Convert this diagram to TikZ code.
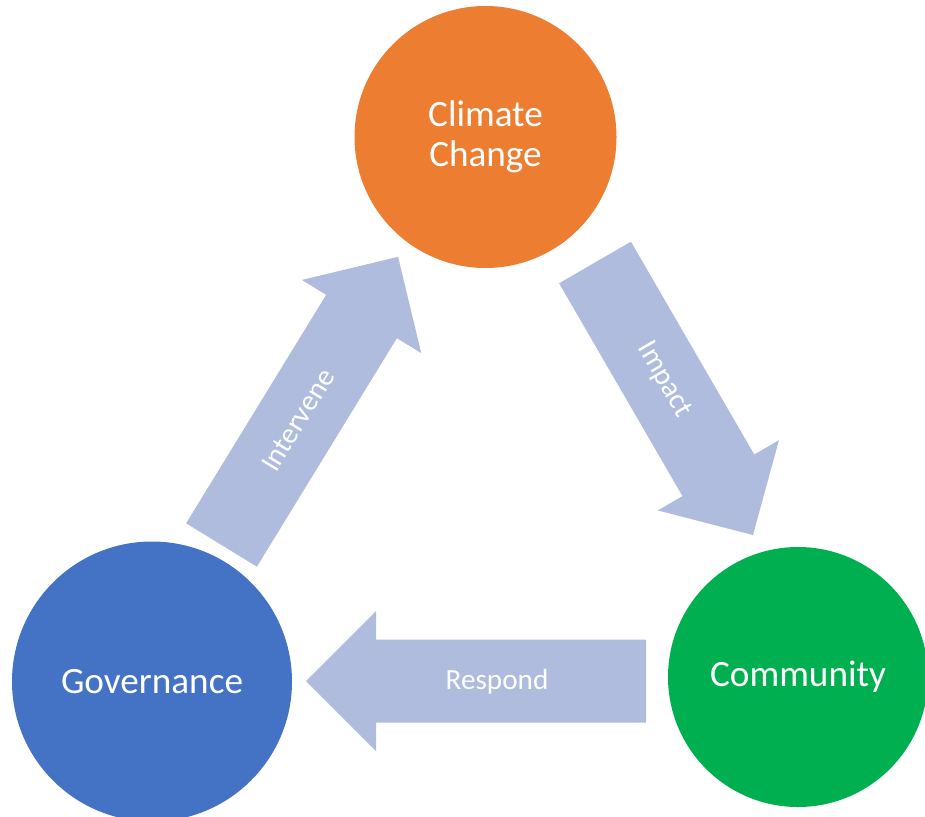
\documentclass[tikz,border=0pt]{standalone}
\usepackage{fontspec}
\setmainfont{Carlito}
\usetikzlibrary{calc}
\definecolor{ccorange}{HTML}{ED7D31}
\definecolor{govblue}{HTML}{4472C4}
\definecolor{comgreen}{HTML}{00B050}
\definecolor{arrowblue}{HTML}{AFBCDE}
\tikzset{
  bubble/.style={circle, inner sep=0pt, draw=none, text=white, align=center,
    font=\fontsize{37.2}{40.5}\selectfont},
  blockarrow/.style={fill=arrowblue, draw=none},
  arrowlabel/.style={text=white, inner sep=0pt, font=\fontsize{29.2}{32}\selectfont},
}
\begin{document}
\begin{tikzpicture}[x=1pt,y=-1pt]
\useasboundingbox (0,0) rectangle (925,816);
\clip (0,0) rectangle (925,816);
% circles
\node[bubble, fill=ccorange, minimum size=262pt] (cc) at (485.5,137) {Climate\\Change};
\node[bubble, fill=govblue, minimum size=280pt] (gov) at (152,681.5) {Governance};
\node[bubble, fill=comgreen, minimum size=260pt] (com) at (798,677) {Community};
% block arrows (tail at origin, tip at (L,0))
% Respond: Community -> Governance
\begin{scope}[shift={(646,681)}, rotate=180]
  \fill[blockarrow] (0,-41.5) -- (270,-41.5) -- (270,-70) -- (340,0) -- (270,70) -- (270,41.5) -- (0,41.5) -- cycle;
\end{scope}
% Intervene: Governance -> Climate Change
\begin{scope}[shift={(221.5,545)}, rotate=58.5]
  \fill[blockarrow] (0,-41.5) -- (268,-41.5) -- (268,-70) -- (338,0) -- (268,70) -- (268,41.5) -- (0,41.5) -- cycle;
\end{scope}
% Impact: Climate Change -> Community
\begin{scope}[shift={(595,262.5)}, rotate=-59.9]
  \fill[blockarrow] (0,-41.5) -- (246,-41.5) -- (246,-70) -- (315,0) -- (246,70) -- (246,41.5) -- (0,41.5) -- cycle;
\end{scope}
% labels
\node[arrowlabel] (respond) at (497,682) {Respond};
\node[arrowlabel, rotate=58.5] (intervene) at (298,420) {Intervene};
\node[arrowlabel, rotate=-59.9] (impact) at (664,380) {Impact};
\end{tikzpicture}
\end{document}
